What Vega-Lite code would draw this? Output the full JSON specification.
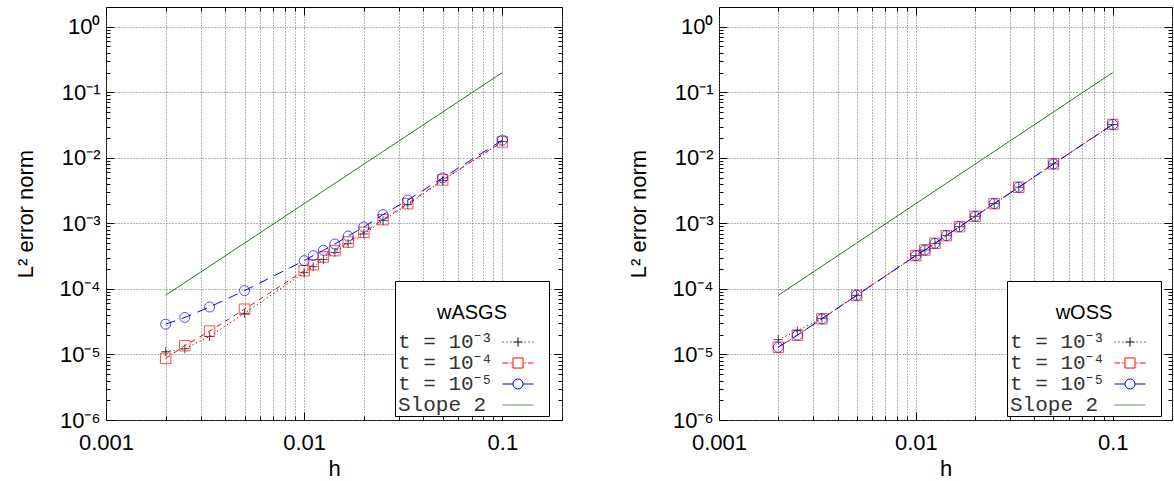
{
  "$schema": "https://vega.github.io/schema/vega-lite/v6.json",
  "background": "white",
  "padding": {"left": 13, "top": 6, "right": 0, "bottom": 0},
  "datasets": {
    "all": [
      {"panel": "ASGS", "series": "t = 10⁻³", "h": 0.1, "err": 0.0177},
      {"panel": "ASGS", "series": "t = 10⁻³", "h": 0.05, "err": 0.0045},
      {"panel": "ASGS", "series": "t = 10⁻³", "h": 0.03333, "err": 0.00195},
      {"panel": "ASGS", "series": "t = 10⁻³", "h": 0.025, "err": 0.0011},
      {"panel": "ASGS", "series": "t = 10⁻³", "h": 0.02, "err": 0.00069},
      {"panel": "ASGS", "series": "t = 10⁻³", "h": 0.01667, "err": 0.00049},
      {"panel": "ASGS", "series": "t = 10⁻³", "h": 0.01429, "err": 0.00036},
      {"panel": "ASGS", "series": "t = 10⁻³", "h": 0.0125, "err": 0.00028},
      {"panel": "ASGS", "series": "t = 10⁻³", "h": 0.01111, "err": 0.000218},
      {"panel": "ASGS", "series": "t = 10⁻³", "h": 0.01, "err": 0.000177},
      {"panel": "ASGS", "series": "t = 10⁻³", "h": 0.005, "err": 0.0000425},
      {"panel": "ASGS", "series": "t = 10⁻³", "h": 0.003333, "err": 0.0000188},
      {"panel": "ASGS", "series": "t = 10⁻³", "h": 0.0025, "err": 0.0000122},
      {"panel": "ASGS", "series": "t = 10⁻³", "h": 0.002, "err": 0.000011},
      {"panel": "ASGS", "series": "t = 10⁻⁴", "h": 0.1, "err": 0.0175},
      {"panel": "ASGS", "series": "t = 10⁻⁴", "h": 0.05, "err": 0.0046},
      {"panel": "ASGS", "series": "t = 10⁻⁴", "h": 0.03333, "err": 0.002},
      {"panel": "ASGS", "series": "t = 10⁻⁴", "h": 0.025, "err": 0.00114},
      {"panel": "ASGS", "series": "t = 10⁻⁴", "h": 0.02, "err": 0.00073},
      {"panel": "ASGS", "series": "t = 10⁻⁴", "h": 0.01667, "err": 0.00052},
      {"panel": "ASGS", "series": "t = 10⁻⁴", "h": 0.01429, "err": 0.000384},
      {"panel": "ASGS", "series": "t = 10⁻⁴", "h": 0.0125, "err": 0.000306},
      {"panel": "ASGS", "series": "t = 10⁻⁴", "h": 0.01111, "err": 0.000234},
      {"panel": "ASGS", "series": "t = 10⁻⁴", "h": 0.01, "err": 0.00019},
      {"panel": "ASGS", "series": "t = 10⁻⁴", "h": 0.005, "err": 0.000049},
      {"panel": "ASGS", "series": "t = 10⁻⁴", "h": 0.003333, "err": 0.0000227},
      {"panel": "ASGS", "series": "t = 10⁻⁴", "h": 0.0025, "err": 0.0000136},
      {"panel": "ASGS", "series": "t = 10⁻⁴", "h": 0.002, "err": 0.0000087},
      {"panel": "ASGS", "series": "t = 10⁻⁵", "h": 0.1, "err": 0.0186},
      {"panel": "ASGS", "series": "t = 10⁻⁵", "h": 0.05, "err": 0.00493},
      {"panel": "ASGS", "series": "t = 10⁻⁵", "h": 0.03333, "err": 0.00227},
      {"panel": "ASGS", "series": "t = 10⁻⁵", "h": 0.025, "err": 0.00136},
      {"panel": "ASGS", "series": "t = 10⁻⁵", "h": 0.02, "err": 0.00088},
      {"panel": "ASGS", "series": "t = 10⁻⁵", "h": 0.01667, "err": 0.00064},
      {"panel": "ASGS", "series": "t = 10⁻⁵", "h": 0.01429, "err": 0.000484},
      {"panel": "ASGS", "series": "t = 10⁻⁵", "h": 0.0125, "err": 0.000388},
      {"panel": "ASGS", "series": "t = 10⁻⁵", "h": 0.01111, "err": 0.000322},
      {"panel": "ASGS", "series": "t = 10⁻⁵", "h": 0.01, "err": 0.00027},
      {"panel": "ASGS", "series": "t = 10⁻⁵", "h": 0.005, "err": 0.000094},
      {"panel": "ASGS", "series": "t = 10⁻⁵", "h": 0.003333, "err": 0.000053},
      {"panel": "ASGS", "series": "t = 10⁻⁵", "h": 0.0025, "err": 0.0000367},
      {"panel": "ASGS", "series": "t = 10⁻⁵", "h": 0.002, "err": 0.000029},
      {"panel": "ASGS", "series": "Slope 2", "h": 0.002, "err": 0.00008},
      {"panel": "ASGS", "series": "Slope 2", "h": 0.1, "err": 0.2},
      {"panel": "OSS", "series": "t = 10⁻³", "h": 0.1, "err": 0.0323},
      {"panel": "OSS", "series": "t = 10⁻³", "h": 0.05, "err": 0.00808},
      {"panel": "OSS", "series": "t = 10⁻³", "h": 0.03333, "err": 0.00356},
      {"panel": "OSS", "series": "t = 10⁻³", "h": 0.025, "err": 0.002},
      {"panel": "OSS", "series": "t = 10⁻³", "h": 0.02, "err": 0.00128},
      {"panel": "OSS", "series": "t = 10⁻³", "h": 0.01667, "err": 0.00089},
      {"panel": "OSS", "series": "t = 10⁻³", "h": 0.01429, "err": 0.00065},
      {"panel": "OSS", "series": "t = 10⁻³", "h": 0.0125, "err": 0.000496},
      {"panel": "OSS", "series": "t = 10⁻³", "h": 0.01111, "err": 0.000392},
      {"panel": "OSS", "series": "t = 10⁻³", "h": 0.01, "err": 0.000322},
      {"panel": "OSS", "series": "t = 10⁻³", "h": 0.005, "err": 0.0000797},
      {"panel": "OSS", "series": "t = 10⁻³", "h": 0.003333, "err": 0.0000355},
      {"panel": "OSS", "series": "t = 10⁻³", "h": 0.0025, "err": 0.000023},
      {"panel": "OSS", "series": "t = 10⁻³", "h": 0.002, "err": 0.0000168},
      {"panel": "OSS", "series": "t = 10⁻⁴", "h": 0.1, "err": 0.0323},
      {"panel": "OSS", "series": "t = 10⁻⁴", "h": 0.05, "err": 0.00808},
      {"panel": "OSS", "series": "t = 10⁻⁴", "h": 0.03333, "err": 0.00356},
      {"panel": "OSS", "series": "t = 10⁻⁴", "h": 0.025, "err": 0.002},
      {"panel": "OSS", "series": "t = 10⁻⁴", "h": 0.02, "err": 0.00128},
      {"panel": "OSS", "series": "t = 10⁻⁴", "h": 0.01667, "err": 0.00089},
      {"panel": "OSS", "series": "t = 10⁻⁴", "h": 0.01429, "err": 0.00065},
      {"panel": "OSS", "series": "t = 10⁻⁴", "h": 0.0125, "err": 0.000496},
      {"panel": "OSS", "series": "t = 10⁻⁴", "h": 0.01111, "err": 0.000392},
      {"panel": "OSS", "series": "t = 10⁻⁴", "h": 0.01, "err": 0.000322},
      {"panel": "OSS", "series": "t = 10⁻⁴", "h": 0.005, "err": 0.0000797},
      {"panel": "OSS", "series": "t = 10⁻⁴", "h": 0.003333, "err": 0.000035},
      {"panel": "OSS", "series": "t = 10⁻⁴", "h": 0.0025, "err": 0.0000197},
      {"panel": "OSS", "series": "t = 10⁻⁴", "h": 0.002, "err": 0.0000129},
      {"panel": "OSS", "series": "t = 10⁻⁵", "h": 0.1, "err": 0.0323},
      {"panel": "OSS", "series": "t = 10⁻⁵", "h": 0.05, "err": 0.00808},
      {"panel": "OSS", "series": "t = 10⁻⁵", "h": 0.03333, "err": 0.00356},
      {"panel": "OSS", "series": "t = 10⁻⁵", "h": 0.025, "err": 0.002},
      {"panel": "OSS", "series": "t = 10⁻⁵", "h": 0.02, "err": 0.00128},
      {"panel": "OSS", "series": "t = 10⁻⁵", "h": 0.01667, "err": 0.00089},
      {"panel": "OSS", "series": "t = 10⁻⁵", "h": 0.01429, "err": 0.00065},
      {"panel": "OSS", "series": "t = 10⁻⁵", "h": 0.0125, "err": 0.000496},
      {"panel": "OSS", "series": "t = 10⁻⁵", "h": 0.01111, "err": 0.000392},
      {"panel": "OSS", "series": "t = 10⁻⁵", "h": 0.01, "err": 0.000322},
      {"panel": "OSS", "series": "t = 10⁻⁵", "h": 0.005, "err": 0.0000797},
      {"panel": "OSS", "series": "t = 10⁻⁵", "h": 0.003333, "err": 0.000035},
      {"panel": "OSS", "series": "t = 10⁻⁵", "h": 0.0025, "err": 0.0000197},
      {"panel": "OSS", "series": "t = 10⁻⁵", "h": 0.002, "err": 0.0000129},
      {"panel": "OSS", "series": "Slope 2", "h": 0.002, "err": 0.00008},
      {"panel": "OSS", "series": "Slope 2", "h": 0.1, "err": 0.2}
    ]
  },
  "data": {"name": "all"},
  "spacing": 63,
  "resolve": {
    "scale": {"x": "independent", "y": "independent", "color": "independent", "shape": "independent"},
    "legend": {"color": "independent", "shape": "independent"}
  },
  "hconcat": [
    {
      "width": 456,
      "height": 413,
      "transform": [{"filter": "datum.panel == 'ASGS'"}],
      "encoding": {
        "x": {"field": "h", "type": "quantitative", "scale": {"type": "log", "domain": [0.001, 0.2], "nice": false}, "axis": null},
        "y": {"field": "err", "type": "quantitative", "scale": {"type": "log", "domain": [0.000001, 2], "nice": false}, "axis": null}
      },
      "layer": [
        {
          "transform": [{"filter": "datum.series == 't = 10⁻³'"}],
          "mark": {"type": "line", "color": "black", "strokeWidth": 1, "strokeDash": [1, 3]},
          "encoding": {
            "x": {"field": "h", "type": "quantitative", "scale": {"type": "log", "domain": [0.001, 0.2], "nice": false},
              "axis": {"orient": "bottom", "values": [0.001,0.002,0.003,0.004,0.005,0.006,0.007,0.008,0.009,0.01,0.02,0.03,0.04,0.05,0.06,0.07,0.08,0.09,0.1,0.2],
                "labelExpr": "datum.value == 0.001 ? '0.001' : datum.value == 0.01 ? '0.01' : datum.value == 0.1 ? '0.1' : ''",
                "grid": true, "gridColor": "#666", "gridDash": [1, 2], "gridWidth": 1,
                "tickSize": {"condition": {"test": "indexof([0.001,0.01,0.1], datum.value) >= 0", "value": -8}, "value": -4},
                "labelPadding": 20, "labelFlush": false, "labelOverlap": false, "labelBound": false,
                "title": "h", "titlePadding": 1}},
            "y": {"field": "err", "type": "quantitative", "scale": {"type": "log", "domain": [0.000001, 2], "nice": false},
              "axis": {"orient": "left", "values": [0.000001,0.000002,0.000003,0.000004,0.000005,0.000006,0.000007,0.000008,0.000009,0.00001,0.00002,0.00003,0.00004,0.00005,0.00006,0.00007,0.00008,0.00009,0.0001,0.0002,0.0003,0.0004,0.0005,0.0006,0.0007,0.0008,0.0009,0.001,0.002,0.003,0.004,0.005,0.006,0.007,0.008,0.009,0.01,0.02,0.03,0.04,0.05,0.06,0.07,0.08,0.09,0.1,0.2,0.3,0.4,0.5,0.6,0.7,0.8,0.9,1],
                "labelExpr": "datum.value == 1 ? '10⁰' : datum.value == 0.1 ? '10⁻¹' : datum.value == 0.01 ? '10⁻²' : datum.value == 0.001 ? '10⁻³' : datum.value == 0.0001 ? '10⁻⁴' : datum.value == 0.00001 ? '10⁻⁵' : datum.value == 0.000001 ? '10⁻⁶' : ''",
                "grid": true, "gridColor": "#666", "gridDash": [1, 2], "gridWidth": 1,
                "gridOpacity": {"condition": {"test": "indexof([0.000001,0.00001,0.0001,0.001,0.01,0.1,1], datum.value) >= 0", "value": 1}, "value": 0},
                "tickSize": {"condition": {"test": "indexof([0.000001,0.00001,0.0001,0.001,0.01,0.1,1], datum.value) >= 0", "value": -8}, "value": -4},
                "labelPadding": 14, "labelFlush": false, "labelOverlap": false, "labelBound": false,
                "title": "L² error norm", "titlePadding": 22}}
          }
        },
        {
          "transform": [{"filter": "datum.series == 't = 10⁻³'"}],
          "mark": {"type": "point", "shape": "M-1,0H1M0,-1V1", "size": 81, "color": "black", "strokeWidth": 1, "filled": false}
        },
        {
          "transform": [{"filter": "datum.series == 't = 10⁻⁴'"}],
          "mark": {"type": "line", "color": "#ff0000", "strokeWidth": 1, "strokeDash": [5, 5]},
          "encoding": {
            "x": {"field": "h", "type": "quantitative", "scale": {"type": "log", "domain": [0.001, 0.2], "nice": false},
              "axis": {"orient": "top", "values": [0.001,0.002,0.003,0.004,0.005,0.006,0.007,0.008,0.009,0.01,0.02,0.03,0.04,0.05,0.06,0.07,0.08,0.09,0.1,0.2],
                "labels": false, "grid": false, "title": null,
                "tickSize": {"condition": {"test": "indexof([0.001,0.01,0.1], datum.value) >= 0", "value": -8}, "value": -4}}},
            "y": {"field": "err", "type": "quantitative", "scale": {"type": "log", "domain": [0.000001, 2], "nice": false},
              "axis": {"orient": "right", "values": [0.000001,0.000002,0.000003,0.000004,0.000005,0.000006,0.000007,0.000008,0.000009,0.00001,0.00002,0.00003,0.00004,0.00005,0.00006,0.00007,0.00008,0.00009,0.0001,0.0002,0.0003,0.0004,0.0005,0.0006,0.0007,0.0008,0.0009,0.001,0.002,0.003,0.004,0.005,0.006,0.007,0.008,0.009,0.01,0.02,0.03,0.04,0.05,0.06,0.07,0.08,0.09,0.1,0.2,0.3,0.4,0.5,0.6,0.7,0.8,0.9,1],
                "labels": false, "grid": false, "title": null,
                "tickSize": {"condition": {"test": "indexof([0.000001,0.00001,0.0001,0.001,0.01,0.1,1], datum.value) >= 0", "value": -8}, "value": -4}}}
          }
        },
        {
          "transform": [{"filter": "datum.series == 't = 10⁻⁴'"}],
          "mark": {"type": "point", "shape": "square", "size": 110, "color": "#ff0000", "strokeWidth": 1, "filled": false}
        },
        {
          "transform": [{"filter": "datum.series == 't = 10⁻⁵'"}],
          "mark": {"type": "line", "color": "#0000ff", "strokeWidth": 1, "strokeDash": [10, 7]}
        },
        {
          "transform": [{"filter": "datum.series == 't = 10⁻⁵'"}],
          "mark": {"type": "point", "shape": "circle", "size": 100, "color": "#0000ff", "strokeWidth": 1, "filled": false}
        },
        {
          "transform": [{"filter": "datum.series == 'Slope 2'"}],
          "mark": {"type": "line", "color": "#1f7a1f", "strokeWidth": 1}
        },
        {
          "mark": {"type": "point", "opacity": 0, "filled": false},
          "encoding": {
            "color": {"field": "series", "type": "nominal", "title": ["", "wASGS"],
              "scale": {"domain": ["t = 10⁻³", "t = 10⁻⁴", "t = 10⁻⁵", "Slope 2"], "range": ["#000000", "#ff0000", "#0000ff", "#5a9e5a"]},
              "legend": {"orient": "none", "legendX": 289, "legendY": 274}},
            "shape": {"field": "series", "type": "nominal", "title": ["", "wASGS"],
              "scale": {"domain": ["t = 10⁻³", "t = 10⁻⁴", "t = 10⁻⁵", "Slope 2"],
                "range": ["M-1.48,0h0.1M-1.1,0h0.1M-0.72,0h0.1M0.62,0h0.1M1,0h0.1M1.38,0h0.1M-0.44,0H0.44M0,-0.44V0.44M2.62,0",
                          "M-1.48,0h0.55M-0.75,0h0.15M0.6,0h0.15M0.93,0h0.55M-0.48,-0.48H0.48V0.48H-0.48ZM2.62,0",
                          "M-1.48,0H-0.48M0.48,0H1.48M0.48,0A0.48,0.48 0 1,1 -0.48,0A0.48,0.48 0 1,1 0.48,0M2.62,0",
                          "M-1.48,0H1.48M2.62,0"]},
              "legend": {"orient": "none", "legendX": 289, "legendY": 274}}
          }
        }
      ]
    },
    {
      "width": 453,
      "height": 413,
      "transform": [{"filter": "datum.panel == 'OSS'"}],
      "encoding": {
        "x": {"field": "h", "type": "quantitative", "scale": {"type": "log", "domain": [0.001, 0.2], "nice": false}, "axis": null},
        "y": {"field": "err", "type": "quantitative", "scale": {"type": "log", "domain": [0.000001, 2], "nice": false}, "axis": null}
      },
      "layer": [
        {
          "transform": [{"filter": "datum.series == 't = 10⁻³'"}],
          "mark": {"type": "line", "color": "black", "strokeWidth": 1, "strokeDash": [1, 3]},
          "encoding": {
            "x": {"field": "h", "type": "quantitative", "scale": {"type": "log", "domain": [0.001, 0.2], "nice": false},
              "axis": {"orient": "bottom", "values": [0.001,0.002,0.003,0.004,0.005,0.006,0.007,0.008,0.009,0.01,0.02,0.03,0.04,0.05,0.06,0.07,0.08,0.09,0.1,0.2],
                "labelExpr": "datum.value == 0.001 ? '0.001' : datum.value == 0.01 ? '0.01' : datum.value == 0.1 ? '0.1' : ''",
                "grid": true, "gridColor": "#666", "gridDash": [1, 2], "gridWidth": 1,
                "tickSize": {"condition": {"test": "indexof([0.001,0.01,0.1], datum.value) >= 0", "value": -8}, "value": -4},
                "labelPadding": 20, "labelFlush": false, "labelOverlap": false, "labelBound": false,
                "title": "h", "titlePadding": 1}},
            "y": {"field": "err", "type": "quantitative", "scale": {"type": "log", "domain": [0.000001, 2], "nice": false},
              "axis": {"orient": "left", "values": [0.000001,0.000002,0.000003,0.000004,0.000005,0.000006,0.000007,0.000008,0.000009,0.00001,0.00002,0.00003,0.00004,0.00005,0.00006,0.00007,0.00008,0.00009,0.0001,0.0002,0.0003,0.0004,0.0005,0.0006,0.0007,0.0008,0.0009,0.001,0.002,0.003,0.004,0.005,0.006,0.007,0.008,0.009,0.01,0.02,0.03,0.04,0.05,0.06,0.07,0.08,0.09,0.1,0.2,0.3,0.4,0.5,0.6,0.7,0.8,0.9,1],
                "labelExpr": "datum.value == 1 ? '10⁰' : datum.value == 0.1 ? '10⁻¹' : datum.value == 0.01 ? '10⁻²' : datum.value == 0.001 ? '10⁻³' : datum.value == 0.0001 ? '10⁻⁴' : datum.value == 0.00001 ? '10⁻⁵' : datum.value == 0.000001 ? '10⁻⁶' : ''",
                "grid": true, "gridColor": "#666", "gridDash": [1, 2], "gridWidth": 1,
                "gridOpacity": {"condition": {"test": "indexof([0.000001,0.00001,0.0001,0.001,0.01,0.1,1], datum.value) >= 0", "value": 1}, "value": 0},
                "tickSize": {"condition": {"test": "indexof([0.000001,0.00001,0.0001,0.001,0.01,0.1,1], datum.value) >= 0", "value": -8}, "value": -4},
                "labelPadding": 14, "labelFlush": false, "labelOverlap": false, "labelBound": false,
                "title": "L² error norm", "titlePadding": 22}}
          }
        },
        {
          "transform": [{"filter": "datum.series == 't = 10⁻³'"}],
          "mark": {"type": "point", "shape": "M-1,0H1M0,-1V1", "size": 81, "color": "black", "strokeWidth": 1, "filled": false}
        },
        {
          "transform": [{"filter": "datum.series == 't = 10⁻⁴'"}],
          "mark": {"type": "line", "color": "#ff0000", "strokeWidth": 1, "strokeDash": [5, 5]},
          "encoding": {
            "x": {"field": "h", "type": "quantitative", "scale": {"type": "log", "domain": [0.001, 0.2], "nice": false},
              "axis": {"orient": "top", "values": [0.001,0.002,0.003,0.004,0.005,0.006,0.007,0.008,0.009,0.01,0.02,0.03,0.04,0.05,0.06,0.07,0.08,0.09,0.1,0.2],
                "labels": false, "grid": false, "title": null,
                "tickSize": {"condition": {"test": "indexof([0.001,0.01,0.1], datum.value) >= 0", "value": -8}, "value": -4}}},
            "y": {"field": "err", "type": "quantitative", "scale": {"type": "log", "domain": [0.000001, 2], "nice": false},
              "axis": {"orient": "right", "values": [0.000001,0.000002,0.000003,0.000004,0.000005,0.000006,0.000007,0.000008,0.000009,0.00001,0.00002,0.00003,0.00004,0.00005,0.00006,0.00007,0.00008,0.00009,0.0001,0.0002,0.0003,0.0004,0.0005,0.0006,0.0007,0.0008,0.0009,0.001,0.002,0.003,0.004,0.005,0.006,0.007,0.008,0.009,0.01,0.02,0.03,0.04,0.05,0.06,0.07,0.08,0.09,0.1,0.2,0.3,0.4,0.5,0.6,0.7,0.8,0.9,1],
                "labels": false, "grid": false, "title": null,
                "tickSize": {"condition": {"test": "indexof([0.000001,0.00001,0.0001,0.001,0.01,0.1,1], datum.value) >= 0", "value": -8}, "value": -4}}}
          }
        },
        {
          "transform": [{"filter": "datum.series == 't = 10⁻⁴'"}],
          "mark": {"type": "point", "shape": "square", "size": 110, "color": "#ff0000", "strokeWidth": 1, "filled": false}
        },
        {
          "transform": [{"filter": "datum.series == 't = 10⁻⁵'"}],
          "mark": {"type": "line", "color": "#0000ff", "strokeWidth": 1, "strokeDash": [10, 7]}
        },
        {
          "transform": [{"filter": "datum.series == 't = 10⁻⁵'"}],
          "mark": {"type": "point", "shape": "circle", "size": 100, "color": "#0000ff", "strokeWidth": 1, "filled": false}
        },
        {
          "transform": [{"filter": "datum.series == 'Slope 2'"}],
          "mark": {"type": "line", "color": "#1f7a1f", "strokeWidth": 1}
        },
        {
          "mark": {"type": "point", "opacity": 0, "filled": false},
          "encoding": {
            "color": {"field": "series", "type": "nominal", "title": ["", "wOSS"],
              "scale": {"domain": ["t = 10⁻³", "t = 10⁻⁴", "t = 10⁻⁵", "Slope 2"], "range": ["#000000", "#ff0000", "#0000ff", "#5a9e5a"]},
              "legend": {"orient": "none", "legendX": 288, "legendY": 274}},
            "shape": {"field": "series", "type": "nominal", "title": ["", "wOSS"],
              "scale": {"domain": ["t = 10⁻³", "t = 10⁻⁴", "t = 10⁻⁵", "Slope 2"],
                "range": ["M-1.48,0h0.1M-1.1,0h0.1M-0.72,0h0.1M0.62,0h0.1M1,0h0.1M1.38,0h0.1M-0.44,0H0.44M0,-0.44V0.44M2.62,0",
                          "M-1.48,0h0.55M-0.75,0h0.15M0.6,0h0.15M0.93,0h0.55M-0.48,-0.48H0.48V0.48H-0.48ZM2.62,0",
                          "M-1.48,0H-0.48M0.48,0H1.48M0.48,0A0.48,0.48 0 1,1 -0.48,0A0.48,0.48 0 1,1 0.48,0M2.62,0",
                          "M-1.48,0H1.48M2.62,0"]},
              "legend": {"orient": "none", "legendX": 288, "legendY": 274}}
          }
        }
      ]
    }
  ],
  "config": {
    "font": "Liberation Sans",
    "view": {"stroke": "black", "strokeWidth": 1},
    "axis": {
      "domain": false,
      "labelFont": "Liberation Sans", "labelFontSize": 22, "labelColor": "black",
      "titleFont": "Liberation Sans", "titleFontSize": 22, "titleFontWeight": "normal", "titleColor": "black",
      "tickColor": "black", "tickWidth": 1
    },
    "legend": {
      "strokeColor": "black", "fillColor": "white", "padding": 1,
      "titleFont": "Liberation Sans", "titleFontSize": 20, "titleFontWeight": "normal", "titleColor": "black", "titleAnchor": "middle", "titlePadding": 8, "titleLineHeight": 21,
      "labelFont": "Liberation Mono", "labelFontSize": 21, "labelColor": "#333",
      "labelOffset": -131, "labelAlign": "left", "symbolOffset": 111,
      "symbolSize": 441, "symbolStrokeWidth": 1, "symbolOpacity": 1, "symbolFillColor": "transparent", "rowPadding": 0
    }
  }
}
